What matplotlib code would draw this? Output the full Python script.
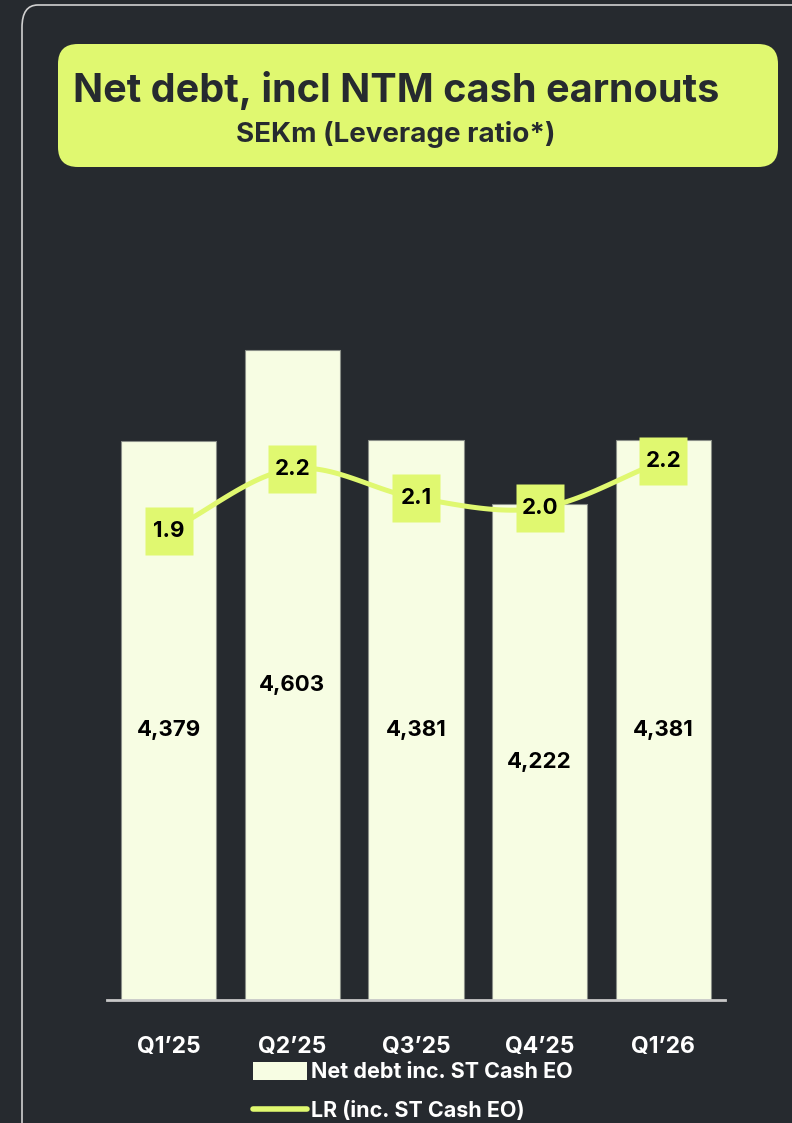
import matplotlib
matplotlib.use("Agg")
import matplotlib.pyplot as plt
import numpy as np
from matplotlib.patches import FancyBboxPatch, Rectangle
from matplotlib.lines import Line2D

quarters = ["Q1\u201925", "Q2\u201925", "Q3\u201925", "Q4\u201925", "Q1\u201926"]
net_debt = [4379, 4603, 4381, 4222, 4381]
leverage = [1.90, 2.20, 2.06, 2.01, 2.24]

BG = "#262a2f"
LIME = "#e0f870"
CREAM = "#f7fde3"

plt.rcParams["font.family"] = ["Inter", "DejaVu Sans"]

W, H = 792, 1123
fig = plt.figure(figsize=(W / 100, H / 100), dpi=100, facecolor=BG)

def fx(px):
    return px / W

def fy(py):
    return 1 - py / H

# panel outline
panel = FancyBboxPatch((fx(22), fy(1160)), fx(820), 1160 / H - 5 / H,
                       boxstyle="round,pad=0,rounding_size=0.02",
                       transform=fig.transFigure, facecolor=BG,
                       edgecolor="#d0d0d0", lw=1.2, zorder=-2)
fig.patches.append(panel)

# title box
tbox = FancyBboxPatch((fx(58), fy(167)), fx(720), 123 / H,
                      boxstyle="round,pad=0,rounding_size=0.025",
                      transform=fig.transFigure, facecolor=LIME,
                      edgecolor="none", mutation_aspect=W / H, zorder=-1)
fig.patches.append(tbox)
fig.text(0.5, fy(91), "Net debt, incl NTM cash earnouts", ha="center",
         va="center", fontsize=28.5, fontweight="bold", color=BG)
fig.text(0.5, fy(134), "SEKm (Leverage ratio*)", ha="center", va="center",
         fontsize=20, fontweight="bold", color=BG)

ax = fig.add_axes([fx(107), fy(1000), fx(725 - 107), 800 / H])
ax.set_facecolor("none")
x = np.arange(len(quarters))
ax.bar(x, [v - 3000 for v in net_debt], bottom=3000, width=0.77,
       color=CREAM, edgecolor="#8a8f88", lw=0.8, zorder=2)
ax.set_xlim(-0.5, 4.5)
ax.set_ylim(3000, 3000 + 800 / 0.4055)
for s in ["top", "right", "left"]:
    ax.spines[s].set_visible(False)
ax.spines["bottom"].set_color("#c8c8c8")
ax.spines["bottom"].set_linewidth(2)
ax.set_yticks([])
ax.set_xticks(x)
ax.set_xticklabels(quarters, color="white", fontsize=16.5, fontweight="bold")
ax.tick_params(axis="x", length=0, pad=26)

# value labels sit a little below the middle of each bar
for xi, v in zip(x, net_debt):
    ax.text(xi, (3000 + v) / 2, f"{v:,}", ha="center", va="top",
            fontsize=16, fontweight="bold", color="black", zorder=5)

ax2 = ax.twinx()
ax2.set_ylim(1.9 - 469 / 207, 1.9 + 331 / 207)
ax2.axis("off")

# smooth curve through the points (Catmull-Rom)
pts = np.column_stack([x, leverage]).astype(float)
ext = np.vstack([2 * pts[0] - pts[1], pts, 2 * pts[-1] - pts[-2]])
curve = []
t = np.linspace(0, 1, 30)[:, None]
for i in range(1, len(ext) - 2):
    p0, p1, p2, p3 = ext[i - 1], ext[i], ext[i + 1], ext[i + 2]
    seg = 0.5 * ((2 * p1) + (-p0 + p2) * t + (2 * p0 - 5 * p1 + 4 * p2 - p3) * t ** 2
                 + (-p0 + 3 * p1 - 3 * p2 + p3) * t ** 3)
    curve.append(seg)
curve = np.vstack(curve)
ax2.plot(curve[:, 0], curve[:, 1], color=LIME, lw=3.6, zorder=3,
         solid_capstyle="round")
ax2.plot(x, leverage, ls="none", marker="s", ms=34, color=LIME, mec="none",
         zorder=4)
for xi, v in zip(x, leverage):
    ax2.text(xi, v, f"{v:.1f}", ha="center", va="center", fontsize=16,
             fontweight="bold", color="black", zorder=6)

handles = [Rectangle((0, 0), 1, 1, facecolor=CREAM, edgecolor="none"),
           Line2D([0], [0], color=LIME, lw=4, solid_capstyle="round")]
leg = fig.legend(handles, ["Net debt inc. ST Cash EO", "LR (inc. ST Cash EO)"],
                 loc="upper left", bbox_to_anchor=(fx(242), fy(1051)),
                 frameon=False, labelcolor="white",
                 prop={"size": 15.5, "weight": "bold"}, handlelength=2.5,
                 handleheight=0.9, handletextpad=0.2, labelspacing=0.85,
                 borderpad=0)

fig.savefig("out.png", dpi=100, facecolor=BG)
